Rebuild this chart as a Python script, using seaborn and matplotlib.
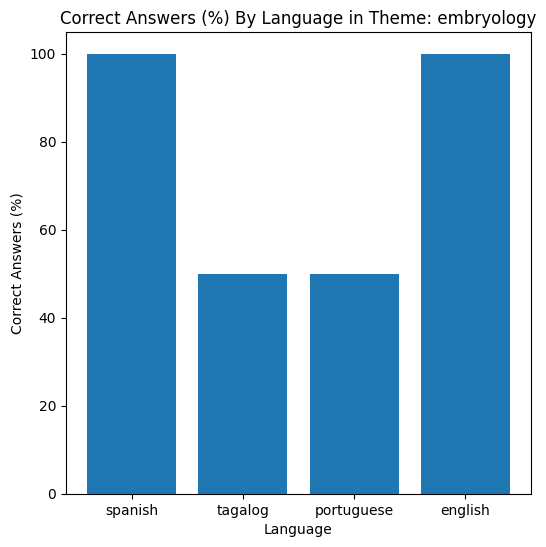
import matplotlib
matplotlib.use("Agg")
import matplotlib.pyplot as plt
import seaborn as sns
import pandas as pd

languages = ["spanish", "tagalog", "portuguese", "english"]
correct_pct = [100, 50, 50, 100]

df = pd.DataFrame({"Language": languages, "Correct Answers (%)": correct_pct})

fig = plt.figure(figsize=(5.46, 5.47), dpi=100)
ax = fig.add_axes([0.1209, 0.0969, 0.8516, 0.8446])
sns.barplot(data=df, x="Language", y="Correct Answers (%)", color="#1f77b4",
            saturation=1, width=0.8, ax=ax)
ax.set_xlim(-0.59, 3.59)
ax.set_ylim(0, 105)
ax.set_title("Correct Answers (%) By Language in Theme: embryology")
ax.set_xlabel("Language")
ax.set_ylabel("Correct Answers (%)")
plt.savefig("out.png", dpi=100)
plt.close()
